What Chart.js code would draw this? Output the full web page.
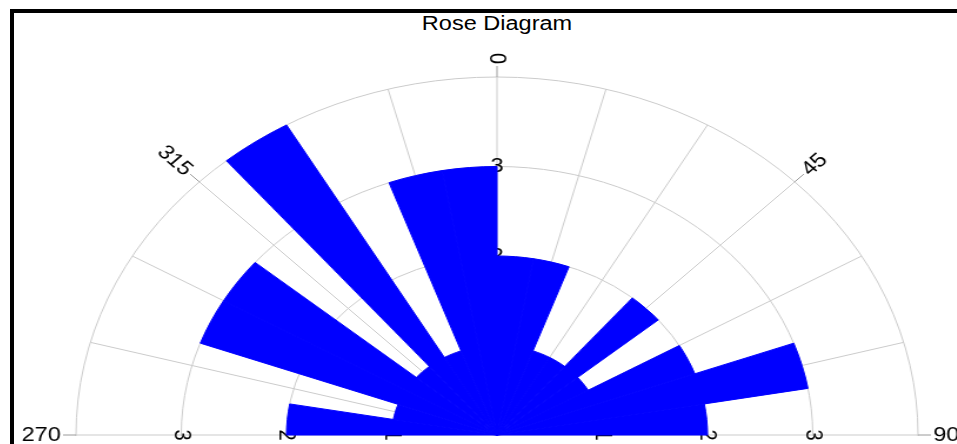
<!DOCTYPE html>
<html>
<head>
<meta charset="utf-8">
<script src="https://cdn.jsdelivr.net/npm/chart.js@4.4.1/dist/chart.umd.min.js"></script>
<style>
  html, body { margin: 0; padding: 0; background: #fff; }
  #stage { position: relative; width: 957px; height: 444px; overflow: hidden; background: #fff; }
  #frame { position: absolute; left: 10px; top: 9px; width: 2000px; height: 1000px;
           border-left: 4px solid #000; border-top: 4px solid #000; }
  #title { position: absolute; left: 397px; width: 200px; top: 12px; line-height: 23px;
           text-align: center; font: 20px "Liberation Sans", Arial, sans-serif; color: #000;
           transform: scaleX(1.176); transform-origin: 100px 0; white-space: nowrap; }
  #wrap { position: absolute; left: 79px; top: 17px; width: 836px; height: 836px;
          transform: scaleX(1.176); transform-origin: 418px 0; }
</style>
</head>
<body>
<div id="stage">
  <div id="frame"></div>
  <div id="title">Rose Diagram</div>
  <div id="wrap"><canvas id="rose" width="836" height="836"></canvas></div>
</div>
<script>
// 10-degree direction bins, clockwise from 270 through 0 to 90
const binLabels = ['270–280', '280–290', '290–300', '300–310', '310–320', '320–330',
                   '330–340', '340–350', '350–360', '0–10', '10–20', '20–30',
                   '30–40', '40–50', '50–60', '60–70', '70–80', '80–90'];
const binCounts = [2, 1, 3, 3, 1, 4, 1, 3, 3, 2, 2, 1, 1, 2, 1, 2, 3, 2];

// spokes every 15 degrees, starting from 270
const spokeLabels = ['270', '285', '300', '315', '330', '345', '0', '15', '30', '45', '60', '75',
                     '90', '105', '120', '135', '150', '165', '180', '195', '210', '225', '240', '255'];
// directions that carry a tick and a label outside the outer ring
const directionLabels = ['270', '315', '0', '45', '90'];
// ring values that are labelled
const ringLabels = [1, 2, 3];
const rMax = 4;

const FONT = '20px "Liberation Sans", Arial, sans-serif';
const GRID = '#cbcbcb';

const roseDecor = {
  id: 'roseDecor',
  beforeDraw(chart) {
    // keep the grid to the upper half of the rose
    const s = chart.scales.r, ctx = chart.ctx;
    ctx.save();
    ctx.beginPath();
    ctx.rect(0, 0, chart.width, s.yCenter + 1);
    ctx.clip();
  },
  beforeDatasetsDraw(chart) {
    const s = chart.scales.r, ctx = chart.ctx;
    ctx.restore();
    // ring values along 0 (upright) and along 270 / 90 (turned a quarter)
    ctx.save();
    ctx.font = FONT;
    ctx.fillStyle = '#000';
    ctx.textAlign = 'center';
    ctx.textBaseline = 'middle';
    for (const v of ringLabels) {
      const d = s.getDistanceFromCenterForValue(v);
      for (const dir of ['0', '270', '90']) {
        const p = s.getPointPosition(spokeLabels.indexOf(dir), d);
        ctx.save();
        ctx.translate(p.x, p.y);
        ctx.rotate(dir === '0' ? 0 : Math.PI / 2);
        ctx.fillText(String(v), 0, 0);
        ctx.restore();
      }
    }
    ctx.restore();
  },
  afterDatasetsDraw(chart) {
    const s = chart.scales.r, ctx = chart.ctx;
    const outer = s.getDistanceFromCenterForValue(rMax);
    ctx.save();
    ctx.font = FONT;
    ctx.fillStyle = '#000';
    ctx.strokeStyle = '#9a9a9a';
    ctx.lineWidth = 1;
    ctx.textAlign = 'center';
    ctx.textBaseline = 'middle';
    for (const dir of directionLabels) {
      const idx = spokeLabels.indexOf(dir);
      const a = s.getPointPosition(idx, outer);
      const b = s.getPointPosition(idx, outer + 11);
      ctx.beginPath();
      ctx.moveTo(a.x, a.y);
      ctx.lineTo(b.x, b.y);
      ctx.stroke();
      const w = ctx.measureText(dir).width;
      const c = s.getPointPosition(idx, outer + 13 + w / 2);
      let rot = (Number(dir) + 90) % 180;
      if (rot > 90) rot -= 180;
      ctx.save();
      ctx.translate(c.x, c.y);
      ctx.rotate(rot * Math.PI / 180);
      ctx.fillText(dir, 0, 0);
      ctx.restore();
    }
    ctx.restore();
  }
};

new Chart(document.getElementById('rose'), {
  type: 'polarArea',
  data: {
    labels: binLabels,
    datasets: [{
      data: binCounts,
      angle: 10,
      backgroundColor: '#0000ff',
      borderColor: '#0000ff',
      borderWidth: 1
    }]
  },
  options: {
    responsive: false,
    devicePixelRatio: 1,
    animation: false,
    layout: { padding: 60 },
    plugins: {
      legend: { display: false },
      title: { display: false },
      tooltip: { enabled: false }
    },
    scales: {
      r: {
        type: 'radialLinear',
        min: 0,
        max: rMax,
        startAngle: -90,
        labels: spokeLabels,
        ticks: { display: false, stepSize: 1 },
        grid: { circular: true, color: GRID, lineWidth: 1 },
        angleLines: { display: true, color: GRID, lineWidth: 1 },
        pointLabels: { display: false }
      }
    }
  },
  plugins: [roseDecor]
});
</script>
</body>
</html>
